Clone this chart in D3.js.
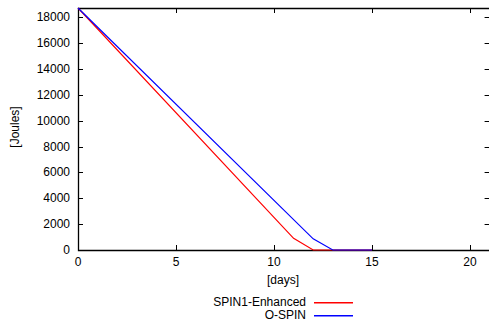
<!DOCTYPE html>
<html>
<head>
<meta charset="utf-8">
<script src="https://cdn.jsdelivr.net/npm/d3@7"></script>
<style>
  body { margin: 0; background: #fff; }
  text { font-family: "Liberation Sans", Arial, sans-serif; font-size: 12px; fill: #000; }
</style>
</head>
<body>
<svg id="chart" width="489" height="323"></svg>
<script>
// values
const spinDays = [0, 11, 12, 13, 14, 15];
const spinJoules = [18720, 900, 0, 0, 0, 0];
const ospinDays = [0, 12, 13, 14, 15];
const ospinJoules = [18720, 860, 0, 0, 0];
const xTicks = [0, 5, 10, 15, 20];
const yTicks = [0, 2000, 4000, 6000, 8000, 10000, 12000, 14000, 16000, 18000];
const seriesNames = ['SPIN1-Enhanced', 'O-SPIN'];
const seriesColors = ['#ff0000', '#0000ff'];

const margin = { top: 8, left: 78, bottom: 73 };
const width = 411.6;
const height = 323 - margin.top - margin.bottom;

const svg = d3.select('#chart');
const g = svg.append('g').attr('transform', `translate(${margin.left},${margin.top})`);

const x = d3.scaleLinear().domain([0, 21]).range([0, width]);
const y = d3.scaleLinear().domain([0, 18720]).range([height, 0]);

// ticks (gnuplot style, pointing inward, mirrored)
const tickLen = 5;
const ticks = g.append('g').attr('stroke', '#000').attr('stroke-width', 1);
xTicks.forEach((t) => {
  const px = Math.round(x(t)) + 0.5;
  ticks.append('line').attr('x1', px).attr('x2', px).attr('y1', height).attr('y2', height - tickLen);
  ticks.append('line').attr('x1', px).attr('x2', px).attr('y1', 0).attr('y2', tickLen);
});
yTicks.forEach((t) => {
  const py = Math.round(y(t)) + 0.5;
  ticks.append('line').attr('x1', 0).attr('x2', tickLen).attr('y1', py).attr('y2', py);
  ticks.append('line').attr('x1', width).attr('x2', width - tickLen).attr('y1', py).attr('y2', py);
});

// tick labels
g.append('g')
  .selectAll('text')
  .data(xTicks)
  .enter()
  .append('text')
  .attr('x', (d) => x(d))
  .attr('y', height + 16)
  .attr('text-anchor', 'middle')
  .text((d) => d);

g.append('g')
  .selectAll('text')
  .data(yTicks)
  .enter()
  .append('text')
  .attr('x', -8)
  .attr('y', (d) => y(d) + 4)
  .attr('text-anchor', 'end')
  .text((d) => d);

// border (left, bottom, top)
g.append('path')
  .attr('d', `M${width},0.5H0.5V${height + 0.5}H${width}`)
  .attr('fill', 'none')
  .attr('stroke', '#000')
  .attr('stroke-width', 1.3);

// axis labels
g.append('text')
  .attr('x', 205)
  .attr('y', height + 34)
  .attr('text-anchor', 'middle')
  .text('[days]');

g.append('text')
  .attr('transform', `translate(${-59},${119}) rotate(-90)`)
  .attr('text-anchor', 'middle')
  .text('[Joules]');

// lines
const line = d3
  .line()
  .x((d) => x(d[0]))
  .y((d) => y(d[1]));

const series = [
  d3.zip(spinDays, spinJoules),
  d3.zip(ospinDays, ospinJoules),
];

series.forEach((s, i) => {
  g.append('path')
    .datum(s)
    .attr('d', line)
    .attr('fill', 'none')
    .attr('stroke', seriesColors[i])
    .attr('stroke-width', 1.2);
});

// legend (swatches as thin filled rects so the colour survives)
const legend = svg.append('g');
seriesNames.forEach((name, i) => {
  const ly = 302 + i * 13;
  legend.append('text')
    .attr('x', 306)
    .attr('y', ly + 4)
    .attr('text-anchor', 'end')
    .text(name);
  legend.append('rect')
    .attr('x', 314)
    .attr('y', ly)
    .attr('width', 39)
    .attr('height', 1.5)
    .attr('fill', seriesColors[i]);
});
</script>
</body>
</html>
